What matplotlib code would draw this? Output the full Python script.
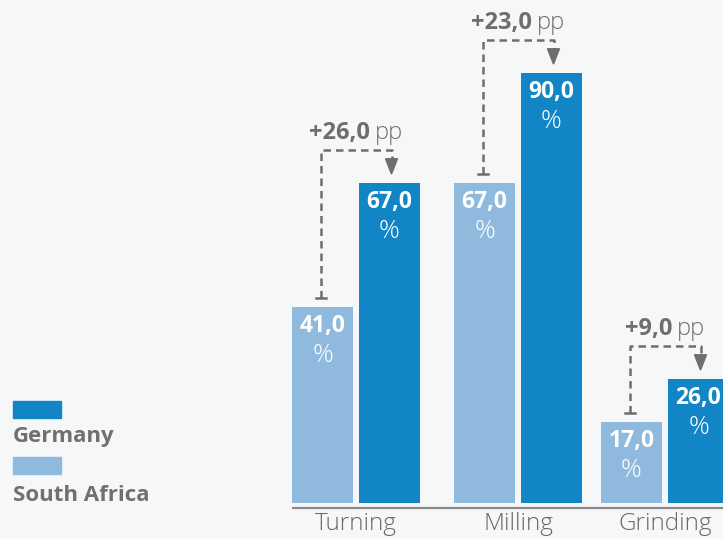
import matplotlib
matplotlib.use("Agg")
import matplotlib.pyplot as plt
from matplotlib.patches import Rectangle, Polygon
import matplotlib.transforms as mtransforms

# ---- data ----
categories = ["Turning", "Milling", "Grinding"]
south_africa = [41.0, 67.0, 17.0]
germany = [67.0, 90.0, 26.0]
series_names = ["Germany", "South Africa"]

# ---- style ----
C_DE = "#1185c6"
C_SA = "#8fbadd"
BG = "#f6f7f9"
GREY = "#6e6e6e"
FONT = ["Open Sans", "DejaVu Sans"]

W, H, DPI = 723, 539, 100
fig = plt.figure(figsize=(W / DPI, H / DPI), dpi=DPI, facecolor=BG)
ax = fig.add_axes([292 / W, 0, 431 / W, 1])
ax.set_facecolor(BG)
ax.set_xlim(-64, 367)
ax.set_ylim(-7.53, 105.2)
ax.axis("off")

group_pos = [0, 162, 309]
bw = 61
off = 33.5

ax.axhline(-1.0, color="#8a8a8a", lw=1.6, zorder=1)

renderer = fig.canvas.get_renderer()

def pair_text(x, y, bold_s, norm_s, size, color, gap_px=5):
    t1 = ax.text(x, y, bold_s, ha="left", va="baseline", fontsize=size,
                 fontweight="bold", color=color, family=FONT)
    t2 = ax.text(x, y, norm_s, ha="left", va="baseline", fontsize=size,
                 fontweight="light", color=color, family=FONT)
    w1 = t1.get_window_extent(renderer).width
    w2 = t2.get_window_extent(renderer).width
    total = w1 + gap_px + w2
    t1.set_transform(ax.transData + mtransforms.ScaledTranslation(-total / 2 / DPI, 0, fig.dpi_scale_trans))
    t2.set_transform(ax.transData + mtransforms.ScaledTranslation((-total / 2 + w1 + gap_px) / DPI, 0, fig.dpi_scale_trans))

for i, cat in enumerate(categories):
    gx = group_pos[i]
    xs, xd = gx - off, gx + off
    sa, de = south_africa[i], germany[i]
    ax.bar(xs, sa, width=bw, color=C_SA, zorder=2)
    ax.bar(xd, de, width=bw, color=C_DE, zorder=2)
    for x, v in [(xs, sa), (xd, de)]:
        ax.text(x, v - 5.3, f"{v:.1f}".replace(".", ","), ha="center", va="baseline",
                fontsize=16.5, fontweight="bold", color="white", family=FONT, zorder=3)
        ax.text(x, v - 11.6, "%", ha="center", va="baseline",
                fontsize=18.5, fontweight="light", color="white", family=FONT, zorder=3)
    # category label
    ax.text(gx, -5.7, cat, ha="center", va="baseline", fontsize=17.5,
            fontweight="light", color="#6a6a6a", family=FONT)
    # bracket
    top = de + 6.9
    tee = sa + 1.8
    lx, rx = xs - 2, xd + 2
    ax.plot([lx, lx, rx, rx], [tee, top, top, de + 5.0], color=GREY, lw=1.8,
            dashes=(3, 2), zorder=3, solid_capstyle="butt")
    ax.plot([lx - 5, lx + 5], [tee, tee], color=GREY, lw=1.8, zorder=3)
    tip = de + 1.8
    ax.add_patch(Polygon([[rx - 6, tip + 3.2], [rx + 6, tip + 3.2], [rx, tip]],
                         closed=True, color=GREY, zorder=3))
    diff = de - sa
    pair_text(gx, de + 9.2, f"+{diff:.1f}".replace(".", ","), "pp", 17, GREY)

# legend
colors = [C_DE, C_SA]
swatch_y = [401, 457]
text_y = [442, 501]
for name, c, y, ty in zip(series_names, colors, swatch_y, text_y):
    fig.patches.append(Rectangle((13 / W, 1 - (y + 17) / H), 48 / W, 17 / H,
                                 transform=fig.transFigure, color=c, figure=fig))
    fig.text(13 / W, 1 - ty / H, name, ha="left", va="baseline", fontsize=16,
             fontweight="bold", color="#707070", family=FONT)

fig.savefig("out.png", dpi=DPI, facecolor=BG)
